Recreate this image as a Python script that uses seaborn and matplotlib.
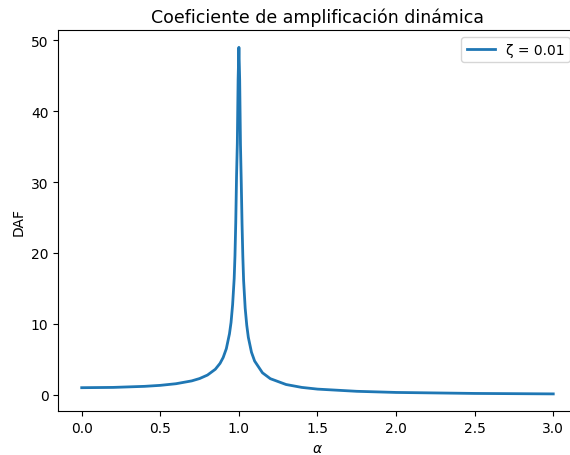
import numpy as np
import pandas as pd
import matplotlib
matplotlib.use('Agg')
import matplotlib.pyplot as plt
import seaborn as sns

# values (zeta = 0.01)
alpha = [0.0, 0.2, 0.4, 0.5, 0.6, 0.7, 0.75, 0.8, 0.85, 0.88, 0.9, 0.92, 0.94,
         0.95, 0.96, 0.97, 0.975, 0.98, 0.985, 0.99, 0.995, 1.0, 1.005, 1.01,
         1.015, 1.02, 1.025, 1.03, 1.04, 1.05, 1.06, 1.08, 1.1, 1.15, 1.2,
         1.3, 1.4, 1.5, 1.75, 2.0, 2.5, 3.0]
daf = [1.0, 1.04, 1.19, 1.33, 1.56, 1.96, 2.29, 2.78, 3.6, 4.43, 5.26, 6.5, 8.6,
       10.2, 12.7, 16.4, 19.6, 24.3, 30.8, 35.5, 44.5, 49.0, 44.4, 35.3,
       30.0, 24.1, 19.5, 16.1, 12.2, 9.8, 8.1, 6.0, 4.76, 3.1, 2.27,
       1.45, 1.04, 0.8, 0.49, 0.33, 0.19, 0.125]
labels = ['ζ = 0.01']

df = pd.DataFrame({'alpha': alpha, 'daf': daf})

fig, ax = plt.subplots(figsize=(5.7, 4.56), dpi=100)
sns.lineplot(data=df, x='alpha', y='daf', color='#1f77b4', linewidth=2, label=labels[0], ax=ax)
ax.set_title('Coeficiente de amplificación dinámica', fontsize=12.5)
ax.set_xlabel(r'$\alpha$')
ax.set_ylabel('DAF')
ax.set_yticks([0, 10, 20, 30, 40, 50])
ax.legend(loc='upper right')
# reference is cropped on the right, so the axes run past the figure edge
fig.subplots_adjust(left=0.102, right=1.012, top=0.932, bottom=0.096)
plt.savefig('out.png')
